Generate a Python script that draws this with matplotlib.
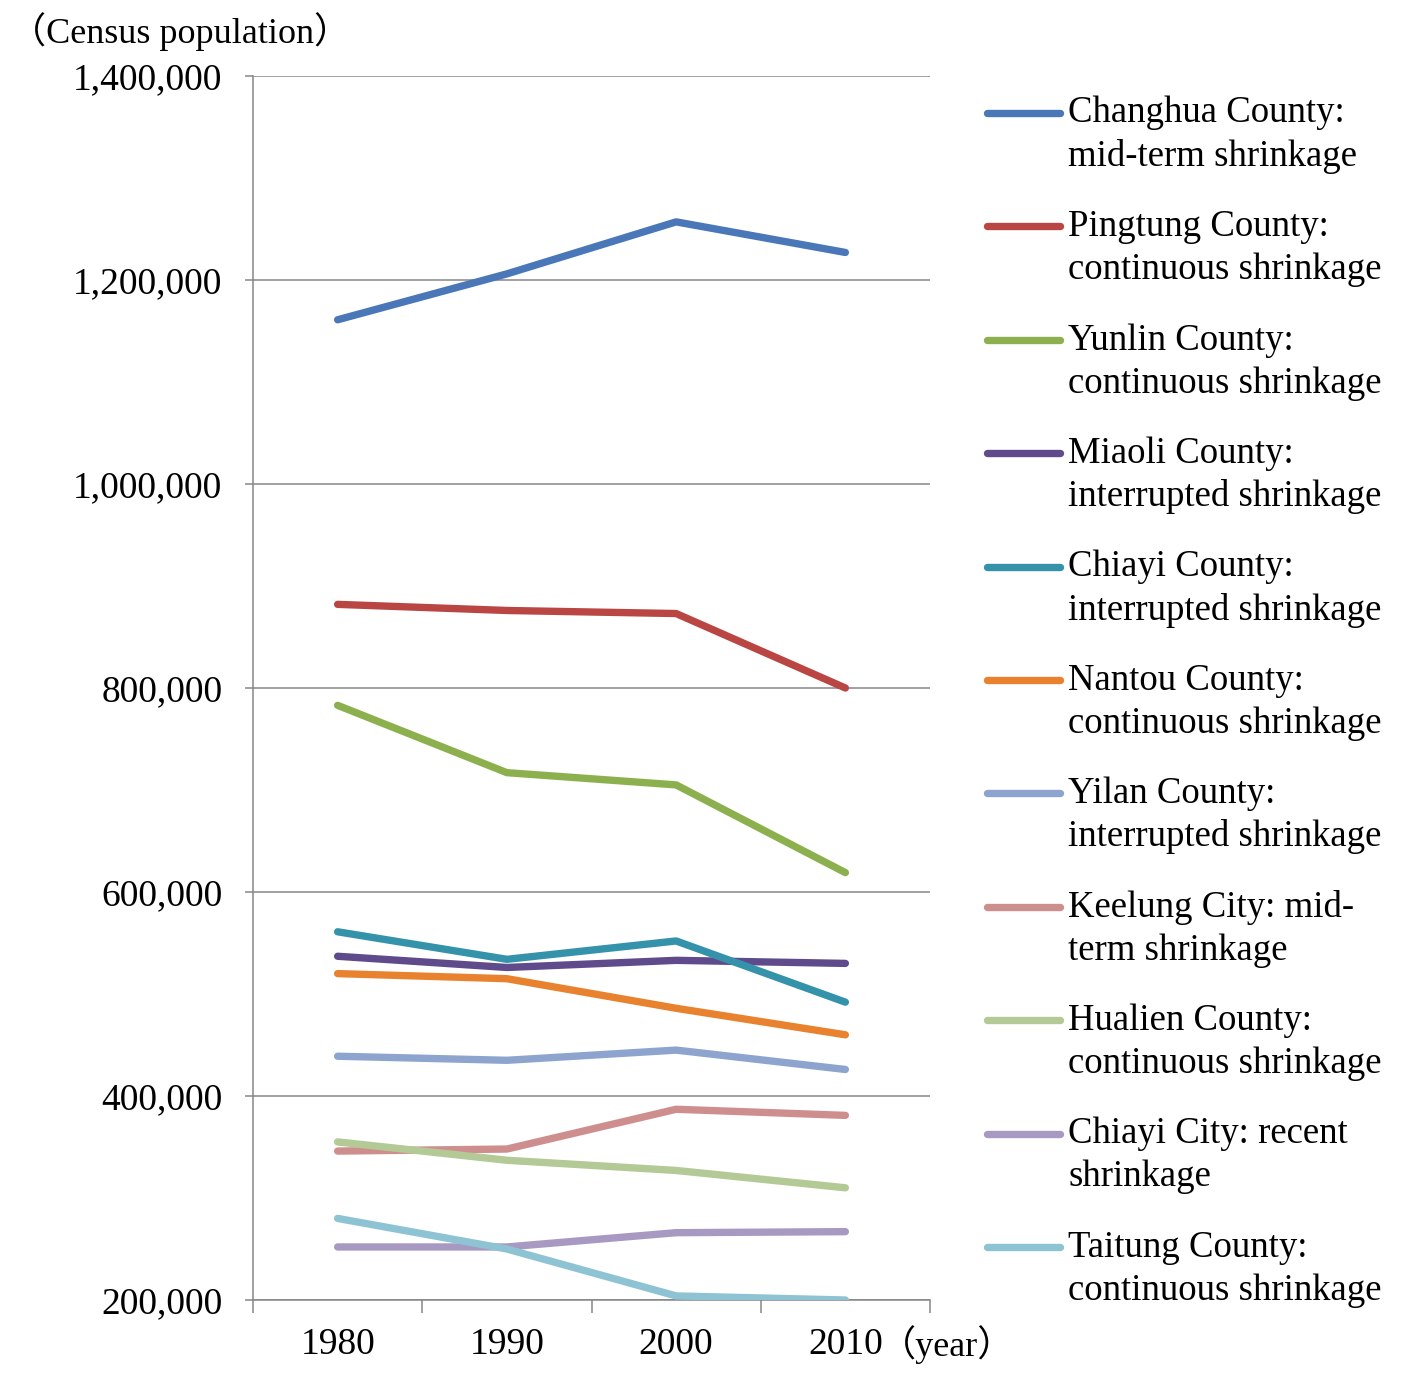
import matplotlib
matplotlib.use("Agg")
import matplotlib.pyplot as plt
from matplotlib.lines import Line2D
from matplotlib.ticker import FuncFormatter, FixedLocator

plt.rcParams['font.family'] = ['Liberation Serif', 'Noto Sans CJK JP', 'DejaVu Sans']

# Census years and populations
years = ["1980", "1990", "2000", "2010"]

changhua = [1161000, 1206000, 1257000, 1227000]
pingtung = [882000, 876000, 873000, 800000]
yunlin = [783000, 717000, 705000, 619000]
miaoli = [537000, 526000, 533000, 530000]
chiayi_county = [561000, 534000, 552000, 492000]
nantou = [520000, 515000, 486000, 460000]
yilan = [439000, 435000, 445000, 426000]
keelung = [346000, 348000, 387000, 381000]
hualien = [355000, 337000, 327000, 310000]
chiayi_city = [252000, 252000, 266000, 267000]
taitung = [280000, 250000, 204000, 200000]

labels = [
    "Changhua County:\nmid-term shrinkage",
    "Pingtung County:\ncontinuous shrinkage",
    "Yunlin County:\ncontinuous shrinkage",
    "Miaoli County:\ninterrupted shrinkage",
    "Chiayi County:\ninterrupted shrinkage",
    "Nantou County:\ncontinuous shrinkage",
    "Yilan County:\ninterrupted shrinkage",
    "Keelung City: mid-\nterm shrinkage",
    "Hualien County:\ncontinuous shrinkage",
    "Chiayi City: recent\nshrinkage",
    "Taitung County:\ncontinuous shrinkage",
]
colors = ["#4A77B7", "#BA4643", "#8DB04E", "#5F4B8B", "#3592AB", "#E9822E",
          "#8DA4CE", "#CF8E8E", "#B3C996", "#A899C2", "#8EC3D4"]

yticks = [200000, 400000, 600000, 800000, 1000000, 1200000, 1400000]

series = [changhua, pingtung, yunlin, miaoli, chiayi_county, nantou,
          yilan, keelung, hualien, chiayi_city, taitung]

W, H = 1416, 1373
fig = plt.figure(figsize=(W / 100, H / 100), dpi=100)
ax = fig.add_axes([253 / W, 1 - 1300 / H, 677 / W, 1224 / H])

grey = "#868686"
x = list(range(len(years)))
for vals, col in zip(series, colors):
    ax.plot(x, vals, color=col, lw=5.3, solid_capstyle='round', solid_joinstyle='round', zorder=3)

ax.set_xlim(-0.5, len(years) - 0.5)
ax.set_ylim(yticks[0], yticks[-1])
ax.set_yticks(yticks)
ax.yaxis.set_major_formatter(FuncFormatter(lambda v, p: f"{int(v):,}"))
ax.grid(axis='y', color=grey, lw=1.1)
ax.set_axisbelow(True)

# category boundaries get tick marks, category centres get labels
ax.xaxis.set_major_locator(FixedLocator([i - 0.5 for i in range(len(years) + 1)]))
ax.xaxis.set_minor_locator(FixedLocator(x))
ax.set_xticklabels([])
ax.set_xticklabels(years, minor=True)
ax.tick_params(axis='x', which='major', direction='out', length=9, width=1.1, color=grey)
ax.tick_params(axis='x', which='minor', length=0, pad=20, labelsize=27)
ax.tick_params(axis='y', direction='out', length=6, width=1.1, color=grey, pad=16, labelsize=27)

for s in ['top', 'right']:
    ax.spines[s].set_visible(False)
for s in ['left', 'bottom']:
    ax.spines[s].set_color(grey)
    ax.spines[s].set_linewidth(1.1)

ax.annotate("（year）", xy=(len(years) - 1, 0), xycoords=('data', 'axes fraction'),
            xytext=(25, -32), textcoords='offset points', ha='left', va='center', fontsize=26)
fig.text(10 / W, 1 - 32 / H, "（Census population）", ha='left', va='center', fontsize=26)

# legend drawn by hand so the handle sits on the first text line
y0, step = 113, 113.4
for i, (lab, col) in enumerate(zip(labels, colors)):
    yy = 1 - (y0 + i * step) / H
    fig.add_artist(Line2D([987 / W, 1060 / W], [yy, yy], color=col, lw=5.3,
                          solid_capstyle='round'))
    fig.text(1068 / W, 1 - (y0 + i * step + 22) / H, lab, ha='left', va='center',
             fontsize=26.5, linespacing=1.32)

fig.savefig("out.png", dpi=100)
